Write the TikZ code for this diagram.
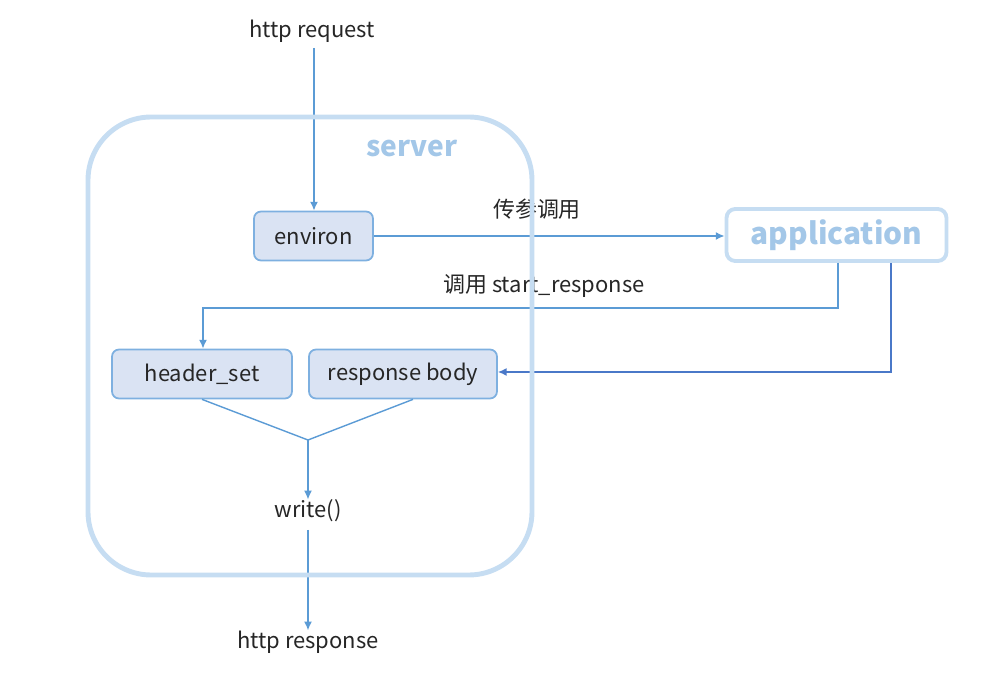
\documentclass[tikz,border=0pt]{standalone}
\usepackage{fontspec}
\setmainfont{Noto Sans CJK SC}
\usetikzlibrary{arrows.meta}
\definecolor{boxfill}{HTML}{DAE3F3}
\definecolor{boxline}{HTML}{7EB0E0}
\definecolor{arr}{HTML}{5B9BD5}
\definecolor{arrdark}{HTML}{4A78C8}
\definecolor{srv}{HTML}{C6DDF2}
\definecolor{srvtext}{HTML}{A3C7E8}
\definecolor{txt}{HTML}{262626}
\tikzset{
  inbox/.style={draw=boxline, fill=boxfill, line width=1pt, rounded corners=4pt, font=\fontsize{12.5}{14}\selectfont, text=txt, inner sep=0pt},
  lbl/.style={font=\fontsize{12.5}{14}\selectfont, text=txt, inner sep=0pt},
  conn/.style={draw=arr, line width=0.8pt, -{Latex[length=5pt,width=4.5pt]}},
  plain/.style={draw=arr, line width=0.8pt},
}
\begin{document}
\begin{tikzpicture}[x=0.02cm,y=-0.02cm]
\useasboundingbox (0,0) rectangle (985,682);
% nodes
\node[lbl] (req) at (312,31) {http request};
\node[inbox, minimum width=2.38cm, minimum height=0.98cm] (env) at (313.5,236) {environ};
\node[draw=srv, line width=2.2pt, fill=white, rounded corners=5pt, minimum width=4.4cm, minimum height=1.04cm, inner sep=0pt, text=srvtext, font=\fontsize{17}{20}\selectfont\bfseries] (app) at (836.5,235) {application};
\node[inbox, minimum width=3.6cm, minimum height=0.98cm] (hdr) at (202,374) {header\_set};
\node[inbox, minimum width=3.76cm, minimum height=0.98cm] (body) at (403,374) {response body};
\node[lbl] (write) at (308,511) {write()};
\node[lbl] (resp) at (308,642) {http response};
\coordinate (merge) at (308,440);
\coordinate (wout) at (308,530);
\coordinate (reqout) at (314,48);
% connectors
\draw[conn] (reqout) -- (env.north -| reqout);
\draw[conn] (env.east) -- (app.west |- env.east);
\node[lbl] (l1) at (537,209) {传参调用};
\draw[conn] (app.south -| 838,0) -- (838,308) -- (203,308) -- (hdr.north -| 203,0);
\node[lbl] (l2) at (544,286) {调用 start\_response};
\draw[conn, draw=arrdark] (app.south -| 891,0) -- (891,372) -- (body.east |- 0,372);
\draw[plain] (hdr.south) -- (merge);
\draw[plain] (body.south -| 413,0) -- (merge);
\draw[conn] (merge) -- (write.north);
\draw[conn] (wout) -- (resp.north);
% server frame
\draw[srv, line width=2.8pt, rounded corners=36pt] (88,117) rectangle (532,575);
\node[text=srvtext, font=\fontsize{16}{18}\selectfont\bfseries, inner sep=0pt] (srvlbl) at (412,149) {server};
\end{tikzpicture}
\end{document}
